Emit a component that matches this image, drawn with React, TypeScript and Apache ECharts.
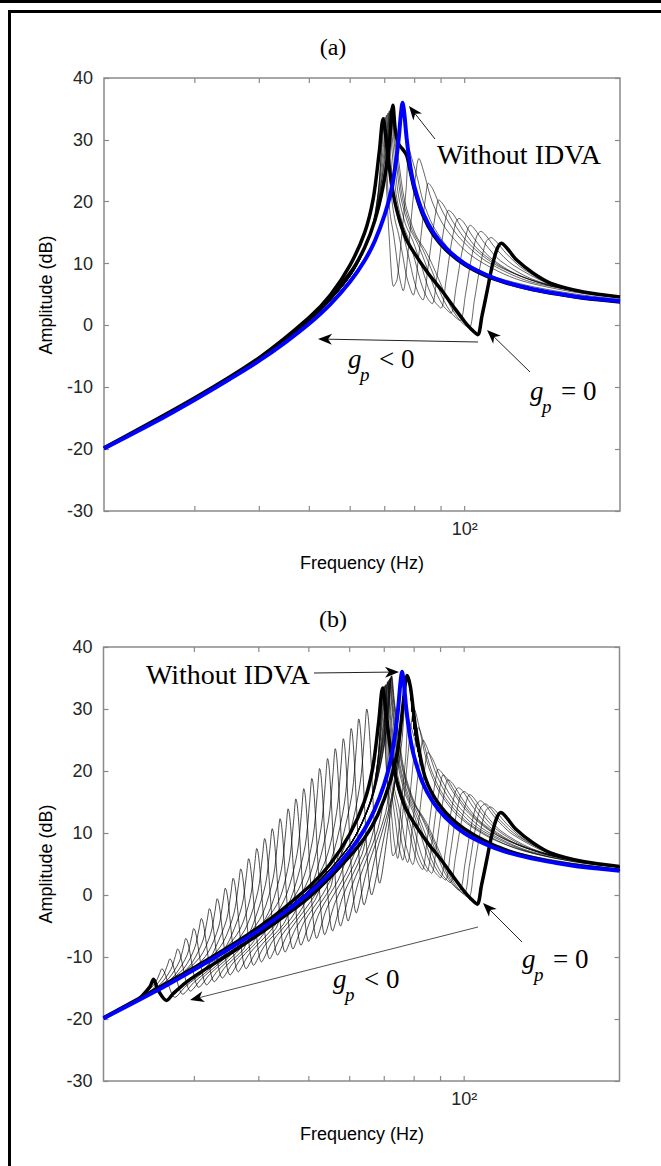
import React, { useEffect, useRef } from "react";
import * as echarts from "echarts";

type Pt = [number, number];

const X_MIN = 20;
const X_MAX = 200;
const Y_MIN = -30;
const Y_MAX = 40;
const Y_STEP = 10;
const X_TICKS = [30, 40, 50, 60, 70, 80, 90, 100];

// "Without IDVA" response (both panels)
const BLUE: Pt[] = [[20,-19.9],[25,-15.7],[30,-12.0],[35,-8.7],[40,-5.7],[45,-2.7],[50,0.3],[55,3.5],[60,7.1],[64,10.5],[67,13.7],[70,17.9],[72,21.7],[73.5,26.1],[74.5,30.2],[75.2,34.0],[75.8,36.0],[76.4,34.2],[77.2,30.2],[78.5,25.6],[80,22.3],[83,18.2],[87,15.0],[92,12.5],[100,10.0],[110,8.2],[120,7.0],[135,5.9],[150,5.2],[170,4.5],[200,3.9]];

// g_p = 0 response (both panels, thick)
const GP0: Pt[] = [[20,-19.8],[30,-11.7],[40,-5.2],[50,1.3],[55,5.0],[60,9.8],[64,15.0],[66.5,20.5],[68.3,28.0],[69.5,33.4],[70.7,29.0],[72,23.4],[74,18.4],[77,14.0],[80,11.6],[85,8.4],[90,5.8],[95,3.1],[100,0.6],[103,-0.6],[106,-1.5],[108,1.5],[110.5,5.5],[113,9.5],[115.5,12.3],[117.8,13.3],[120.5,12.6],[126,10.6],[136,8.4],[147,6.8],[170,5.4],[200,4.6]];

// panel (a): last g_p curve (thick)
const A_LAST: Pt[] = [[20,-19.9],[30,-11.9],[40,-5.5],[50,0.8],[60,8.5],[64,12.6],[67,17.0],[69.5,22.5],[71.3,28.5],[72.6,35.6],[73.4,31.5],[74.5,29.3],[75.8,28.5],[77.2,27.5],[78.5,24.8],[80,21.8],[83,17.8],[87,14.6],[92,12.2],[100,9.8],[110,8.0],[120,6.9],[135,5.8],[150,5.1],[170,4.4],[200,3.8]];

// thin g_p < 0 curves with the antiresonance near / above the resonance (both panels)
const M0: Pt[] = [[20,-19.9],[30,-11.9],[40,-5.6],[50,0.55],[60,7.9],[64,12.3],[66,15.5],[68,21.5],[69,29.0],[69.5,33.5],[70.5,22.9],[71.5,13.5],[72.8,6.3],[74,7.5],[75.5,14.6],[77,22.0],[78,28.5],[79,27.0],[81,23.8],[83,20.2],[87,16.0],[95,11.7],[110,8.4],[130,6.6],[160,5.2],[200,4.2]];
const M1: Pt[] = [[30,-11.8],[40,-5.5],[50,0.7],[60,8.1],[66,15.1],[69,21.2],[71.1,28.0],[72.4,35.4],[73.15,31.7],[74.41,26.9],[76.48,20.2],[80.23,14.8],[84.48,11.7],[88.92,7.6],[93.61,3.3],[97.89,0.8],[102,-0.4],[104.4,4.0],[107.1,9.5],[110,13.5],[112.5,14.2],[115,13.6],[120.5,11.6],[130,9.1],[150,6.4],[170,5.4],[200,4.5]];
const M2: Pt[] = [[30,-11.8],[40,-5.5],[50,0.7],[60,8.1],[66,15.1],[69,21.7],[70.9,28.0],[72.2,35.2],[72.86,31.7],[73.99,27.0],[75.82,20.5],[79.12,15.4],[82.83,12.4],[86.73,8.5],[90.78,4.3],[94.48,1.9],[98,0.8],[100.4,5.1],[102.9,10.6],[105.6,14.5],[107.5,15.2],[109.8,14.6],[115,12.4],[124,9.8],[145,6.8],[170,5.4],[200,4.5]];
const M3: Pt[] = [[30,-11.8],[40,-5.5],[50,0.7],[60,8.0],[66,15.2],[69,22.4],[70.7,28.2],[72.0,35.0],[72.58,31.6],[73.56,27.2],[75.14,20.9],[78.0,16.0],[81.18,13.1],[84.48,9.4],[87.94,5.4],[91.03,3.1],[94,2.0],[96.3,6.3],[98.7,11.7],[101.3,15.5],[102.5,16.2],[104.5,15.6],[109.5,13.2],[117.5,10.4],[135,7.5],[160,5.8],[200,4.5]];
const M4: Pt[] = [[30,-11.8],[40,-5.5],[50,0.7],[60,8.0],[66,15.2],[69,23.3],[70.5,28.5],[71.7,34.8],[72.19,31.5],[73.02,27.2],[74.35,21.2],[76.76,16.4],[79.41,13.6],[82.16,10.0],[85.02,6.1],[87.57,3.8],[90,2.8],[92,7.2],[94,12.7],[96.1,16.6],[97.5,17.3],[99.5,16.7],[104,14.2],[112,11.0],[128,8.0],[155,6.0],[200,4.5]];
const M5: Pt[] = [[30,-11.8],[40,-5.5],[50,0.7],[60,8.0],[66,15.3],[68.5,21.5],[70.2,28.5],[71.4,34.6],[71.81,31.4],[72.5,27.2],[73.63,21.3],[75.63,16.7],[77.83,14.0],[80.11,10.5],[82.45,6.7],[84.54,4.5],[86.5,3.5],[88.4,8.0],[90.4,13.8],[92.2,17.9],[93,18.6],[95,18.0],[99.5,15.3],[107,12.0],[122,8.8],[150,6.2],[200,4.5]];
const M6: Pt[] = [[30,-11.8],[40,-5.5],[50,0.7],[60,8.0],[66,15.3],[68.2,21.3],[69.8,28.2],[71.0,34.3],[71.33,31.2],[71.9,27.1],[72.8,21.4],[74.4,17.0],[76.17,14.3],[77.98,10.9],[79.82,7.2],[81.45,5.1],[83,4.1],[84.8,9.0],[86.7,15.1],[88.4,19.5],[89,20.3],[90.8,19.6],[95,16.7],[102,13.2],[116,9.6],[145,6.5],[200,4.5]];
const M7: Pt[] = [[30,-11.8],[40,-5.5],[50,0.7],[60,8.0],[66,15.4],[68,21.4],[69.4,28.0],[70.6,34.0],[70.85,31.0],[71.96,21.6],[73.16,17.3],[74.48,14.7],[75.82,11.4],[77.18,7.9],[79.5,4.9],[81.2,10.3],[83,17.2],[84.4,22.1],[85,23.0],[86.8,22.0],[90.5,18.5],[97,14.5],[110,10.4],[135,7.0],[200,4.5]];
const M8: Pt[] = [[30,-11.8],[40,-5.5],[50,0.7],[60,8.0],[66,15.4],[68,21.5],[69.0,27.8],[70.1,33.7],[70.27,30.8],[71.01,21.7],[71.82,17.6],[72.69,15.1],[73.59,11.9],[74.48,8.5],[76,5.6],[77.7,12.0],[79.4,20.2],[80.8,25.9],[81.5,27.0],[83.2,25.0],[86.5,20.0],[92,15.6],[103,11.3],[125,7.6],[160,5.5],[200,4.5]];

// extra thin curves of the same kind, panel (b) only
const I1: Pt[] = [[30,-11.8],[40,-5.5],[50,0.7],[60,8.1],[66,15.1],[69,21.5],[71.0,28.0],[72.3,35.3],[73.01,31.7],[74.2,27.0],[76.15,20.3],[79.68,15.1],[83.65,12.0],[87.83,8.1],[92.23,3.8],[96.2,1.3],[100,0.2],[102.3,4.6],[104.8,10.1],[107.5,14.0],[110,14.7],[112.3,14.1],[117.5,12.0],[127,9.5],[148,6.6],[170,5.4],[200,4.5]];
const I2: Pt[] = [[30,-11.8],[40,-5.5],[50,0.7],[60,8.0],[66,15.2],[69,22.8],[70.6,28.3],[71.85,34.9],[72.38,31.6],[73.29,27.2],[74.75,21.1],[77.38,16.2],[80.31,13.3],[83.34,9.7],[86.48,5.7],[89.32,3.5],[92,2.4],[94,6.7],[96.1,12.1],[98.3,16.0],[100,16.7],[102,16.1],[106.8,13.7],[115,10.7],[132,7.7],[160,5.8],[200,4.5]];
const I3: Pt[] = [[30,-11.8],[40,-5.5],[50,0.7],[60,8.0],[66,15.3],[68.4,21.4],[70.0,28.4],[71.2,34.45],[71.57,31.3],[72.2,27.2],[73.21,21.4],[75.0,16.9],[76.98,14.1],[79.01,10.7],[81.1,6.9],[82.96,4.8],[84.7,3.8],[86.6,8.5],[88.5,14.4],[90.3,18.6],[91,19.4],[92.8,18.7],[97.2,15.9],[104.5,12.6],[119,9.1],[148,6.3],[200,4.5]];
const I4: Pt[] = [[30,-11.8],[40,-5.5],[50,0.7],[60,8.0],[66,15.4],[68,21.3],[69.2,27.9],[70.35,33.85],[70.56,30.9],[71.48,21.7],[72.49,17.5],[73.57,14.9],[74.68,11.7],[75.8,8.2],[77.7,5.25],[79.4,11.2],[81.2,18.7],[82.6,23.9],[83.2,25.0],[85,23.5],[88.5,19.3],[94.5,15.0],[106,10.9],[130,7.3],[165,5.3],[200,4.5]];
const I5: Pt[] = [[30,-11.8],[40,-5.5],[50,0.7],[60,8.0],[66,15.5],[68,21.6],[68.8,27.6],[69.8,33.6],[70.15,27.0],[70.5,21.8],[71.12,17.7],[71.79,15.2],[72.47,12.1],[73.15,8.7],[74.3,5.9],[76,13.0],[77.6,21.5],[79,27.8],[80,30.0],[81.6,27.5],[84.5,21.8],[89,17.0],[98,12.5],[115,8.8],[145,6.2],[200,4.5]];

// panel (b): curves with the antiresonance below the resonance.
// common start (just above the blue curve) and common end (shifted resonance)
const B_NEAR_BLUE: Pt[] = [[23,-17.0],[24,-16.2],[25,-15.4],[26.5,-14.2],[28,-13.1],[30,-11.7],[32,-10.4],[34,-9.1],[36,-7.8],[38,-6.6],[40,-5.4],[42.5,-3.9],[45,-2.4],[47.5,-0.9],[50,0.6],[53,2.5],[56,4.5],[59,6.7],[62,9.0],[64,10.8]];
const B_SHIFTED: Pt[] = [[28,-13.9],[30,-12.5],[32,-11.1],[34,-9.9],[36,-8.6],[38,-7.4],[40,-6.2],[42,-5.0],[44,-3.9],[46,-2.7],[48,-1.5],[50,-0.3],[53,1.5],[56,3.4],[59,5.4],[62,7.6],[65,10.1],[68,13.1],[70,15.5],[72,18.6],[74,22.9],[75.5,28.0],[76.5,33.0],[77.5,35.4],[78.5,33.8],[80,27.0],[83,20.4],[87,16.3],[92,13.3],[100,10.6],[110,8.6],[120,7.3],[150,5.3],[200,4.0]];
// local peak / antiresonance section of each of those curves
const B_LOW_PEAKS: Pt[][] = [
  [[24.02,-16.0],[25.18,-14.2],[25.68,-12.7],[25.94,-11.9],[27.5,-16.5],[28.88,-14.7],[31.35,-12.3]],
  [[24.9,-15.2],[26.1,-13.0],[26.62,-11.25],[26.89,-10.3],[28.5,-16.0],[29.93,-14.1],[32.49,-11.6]],
  [[25.77,-14.4],[27.02,-12.0],[27.55,-9.9],[27.83,-8.7],[29.5,-15.5],[30.98,-13.5],[33.63,-10.9]],
  [[26.73,-13.5],[28.03,-10.8],[28.58,-8.4],[28.87,-7.0],[30.6,-14.9],[32.13,-12.8],[34.88,-10.1]],
  [[27.69,-12.6],[29.04,-9.7],[29.61,-6.95],[29.91,-5.4],[31.7,-14.5],[33.29,-12.2],[36.14,-9.4]],
  [[28.65,-11.8],[30.04,-8.55],[30.63,-5.5],[30.94,-3.8],[32.8,-14.0],[34.44,-11.6],[37.39,-8.7]],
  [[29.7,-10.9],[31.15,-7.4],[31.76,-4.1],[32.08,-2.2],[34.0,-13.4],[35.7,-10.9],[38.76,-7.9]],
  [[30.75,-10.05],[32.24,-6.35],[32.88,-2.7],[33.21,-0.6],[35.2,-12.9],[36.96,-10.2],[40.13,-7.1]],
  [[31.88,-9.3],[33.43,-5.15],[34.09,-1.1],[34.43,1.1],[36.5,-12.4],[38.33,-9.5],[41.61,-6.3]],
  [[33.02,-8.35],[34.62,-4.05],[35.31,0.3],[35.66,2.7],[37.8,-11.9],[39.69,-8.9],[43.09,-5.5]],
  [[34.16,-7.55],[35.81,-2.9],[36.52,1.6],[36.89,4.2],[39.1,-11.35],[41.06,-8.15],[44.57,-4.8]],
  [[35.38,-6.6],[37.1,-1.75],[37.83,3.1],[38.21,5.85],[40.5,-10.8],[42.53,-7.45],[46.17,-3.8]],
  [[36.69,-5.7],[38.47,-0.6],[39.23,4.6],[39.62,7.5],[42.0,-10.3],[44.1,-6.75],[47.88,-2.9]],
  [[38.0,-4.8],[39.84,0.6],[40.63,6.1],[41.04,9.1],[43.5,-9.7],[45.68,-6.0],[49.59,-1.9]],
  [[39.31,-3.9],[41.21,1.7],[42.03,7.5],[42.45,10.7],[45.0,-9.2],[47.25,-5.25],[51.3,-0.95]],
  [[40.7,-3.0],[42.68,2.9],[43.52,8.9],[43.96,12.3],[46.6,-8.7],[48.93,-4.4],[53.12,0.05]],
  [[42.19,-2.0],[44.24,4.15],[45.12,10.4],[45.57,13.9],[48.3,-8.1],[50.72,-3.5],[55.06,1.2]],
  [[43.68,-1.0],[45.8,5.4],[46.7,11.8],[47.17,15.5],[50.0,-7.5],[52.5,-2.7],[57.0,2.4]],
  [[45.25,0.05],[47.45,6.65],[48.39,13.3],[48.87,17.15],[51.8,-7.0],[54.39,-1.8],[59.05,3.5]],
  [[46.91,1.15],[49.18,7.9],[50.16,14.8],[50.66,18.8],[53.7,-6.4],[56.39,-0.9],[61.22,5.0]],
  [[48.57,2.25],[50.92,9.2],[51.93,16.35],[52.45,20.4],[55.6,-5.8],[58.38,0.1],[63.38,6.55]],
  [[50.31,3.3],[52.76,10.6],[53.8,17.85],[54.34,22.0],[57.6,-5.0],[60.48,1.3],[65.66,8.35]],
  [[52.06,4.55],[54.59,11.95],[55.67,19.4],[56.23,23.6],[59.6,-4.2],[62.58,2.5],[67.94,10.45]],
  [[53.98,5.8],[56.6,13.3],[57.72,20.9],[58.3,25.2],[61.8,-2.9],[64.89,4.2],[70.45,13.3]],
  [[55.9,7.0],[58.62,14.85],[59.78,22.5],[60.38,26.85],[64.0,-1.6],[67.2,6.05],[72.96,17.2]],
  [[57.82,8.4],[60.63,16.3],[61.83,24.0],[62.45,28.4],[66.2,0.0],[69.51,8.25],[75.47,23.8]],
  [[59.93,9.85],[62.83,17.9],[64.08,25.6],[64.72,30.0],[68.6,1.9],[71.5,11.5],[75,24.5]],
];

// panel (b): last g_p curve (thick)
const B_LAST: Pt[] = [[23.5,-16.7],[24.6,-14.8],[25.0,-13.6],[25.5,-15.3],[26.5,-17.0],[27.3,-15.9],[29,-14.0],[32,-11.6],[36,-8.9],[42,-5.1],[50,-0.4],[58,4.9],[64,9.1],[68,12.9],[72,18.5],[74.5,24.0],[76.2,31.0],[77.5,35.4],[78.7,33.5],[80.5,27.0],[84,19.0],[90,14.3],[100,10.7],[120,7.3],[150,5.3],[200,4.0]];

const A_THIN = [M0, M1, M2, M3, M4, M5, M6, M7, M8];
const B_THIN_HIGH = [M0, M1, I1, M2, I2, M3, M4, M5, I3, M6, M7, I4, M8, I5];

const SANS = "'Liberation Sans', Arial, Helvetica, sans-serif";
const SERIF = "'Liberation Serif', 'Times New Roman', serif";
const AXIS_GREY = "#8a8a8a";
const TEXT_DARK = "#262626";

function lineSeries(data: Pt[], panel: number, color: string, width: number, z: number) {
  return {
    type: "line",
    xAxisIndex: panel,
    yAxisIndex: panel * 2,
    data,
    symbol: "none",
    showSymbol: false,
    smooth: 0.3,
    silent: true,
    z,
    lineStyle: { color, width },
  };
}

function tickSeries(panel: number) {
  return {
    type: "custom",
    xAxisIndex: panel,
    yAxisIndex: panel * 2,
    silent: true,
    z: 10,
    data: X_TICKS.map((v) => [v, Y_MIN]),
    encode: { x: 0, y: 1 },
    renderItem: (_p: any, api: any) => {
      const v = api.value(0);
      const b = api.coord([v, Y_MIN]);
      const t = api.coord([v, Y_MAX]);
      const st = { stroke: AXIS_GREY, lineWidth: 1.2 };
      return {
        type: "group",
        children: [
          { type: "line", shape: { x1: b[0], y1: b[1], x2: b[0], y2: b[1] - 5 }, style: st },
          { type: "line", shape: { x1: t[0], y1: t[1], x2: t[0], y2: t[1] + 5 }, style: st },
        ],
      };
    },
  };
}

function arrow(x1: number, y1: number, x2: number, y2: number, lw = 1, lineColor = "#222") {
  const dx = x2 - x1;
  const dy = y2 - y1;
  const len = Math.sqrt(dx * dx + dy * dy);
  const ux = dx / len;
  const uy = dy / len;
  const L = 14;
  const W = 5.5;
  const N = 10;
  const bx = x2 - ux * L;
  const by = y2 - uy * L;
  const nx = x2 - ux * N;
  const ny = y2 - uy * N;
  return [
    { type: "line", silent: true, z: 20, shape: { x1, y1, x2: nx, y2: ny }, style: { stroke: lineColor, lineWidth: lw } },
    {
      type: "polygon",
      silent: true,
      z: 20,
      shape: { points: [[x2, y2], [bx - uy * W, by + ux * W], [nx, ny], [bx + uy * W, by - ux * W]] },
      style: { fill: "#000" },
    },
  ];
}

function txt(text: string, x: number, y: number, size: number, family: string, align = "left", italic = false, rotation = 0) {
  return {
    type: "text",
    x,
    y,
    rotation,
    silent: true,
    z: 20,
    style: {
      text,
      fontSize: size,
      fontFamily: family,
      fontStyle: italic ? "italic" : "normal",
      fill: "#000",
      align,
      verticalAlign: "middle",
      textAlign: align,
      textVerticalAlign: "middle",
    },
  };
}

function gLabel(x: number, y: number, rest: string) {
  return [
    txt("g", x, y, 27, SERIF, "left", true),
    txt("p", x + 12, y + 15, 19, SERIF, "left", true),
    txt(rest, x + 31, y, 27, SERIF, "left"),
  ];
}

function xAxisCfg(gridIndex: number) {
  return {
    type: "log",
    logBase: 10,
    gridIndex,
    min: X_MIN,
    max: X_MAX,
    axisLine: { show: false },
    axisTick: { show: false },
    splitLine: { show: false },
    axisLabel: {
      formatter: (v: number) => (Math.abs(v - 100) < 0.01 ? "10²" : ""),
      fontFamily: SANS,
      fontSize: 18,
      color: TEXT_DARK,
      margin: 9,
    },
  };
}

function yAxisCfg(gridIndex: number, right: boolean) {
  return {
    type: "value",
    gridIndex,
    position: right ? "right" : "left",
    min: Y_MIN,
    max: Y_MAX,
    interval: Y_STEP,
    axisLine: { show: false },
    axisTick: { show: true, inside: true, length: 5, lineStyle: { color: AXIS_GREY, width: 1.2 } },
    splitLine: { show: false },
    axisLabel: right
      ? { show: false }
      : { show: true, fontFamily: SANS, fontSize: 18, color: TEXT_DARK, margin: 11 },
  };
}

export default function App() {
  const ref = useRef<HTMLDivElement>(null);
  useEffect(() => {
    if (!ref.current) return;
    const chart = echarts.init(ref.current, undefined, { renderer: "svg" });
    const series: any[] = [];
    const THIN = 0.6;
    A_THIN.forEach((d) => series.push(lineSeries(d, 0, "#000", THIN, 2)));
    series.push(lineSeries(A_LAST, 0, "#000", 3.5, 3));
    series.push(lineSeries(GP0, 0, "#000", 3.5, 3));
    series.push(lineSeries(BLUE, 0, "#0000ff", 4, 4));

    B_THIN_HIGH.forEach((d) => series.push(lineSeries(d, 1, "#000", THIN, 2)));
    B_LOW_PEAKS.forEach((u) => {
      const first = u[0][0];
      const last = u[u.length - 1][0];
      const data: Pt[] = [
        ...B_NEAR_BLUE.filter((p) => p[0] < first * 0.97),
        ...u,
        ...B_SHIFTED.filter((p) => p[0] > last * 1.015),
      ];
      series.push(lineSeries(data, 1, "#000", 0.7, 2));
    });
    series.push(lineSeries(B_LAST, 1, "#000", 3.5, 3));
    series.push(lineSeries(GP0, 1, "#000", 3.5, 3));
    series.push(lineSeries(BLUE, 1, "#0000ff", 4, 4));
    series.push(tickSeries(0));
    series.push(tickSeries(1));

    const graphic: any[] = [
      { type: "rect", silent: true, shape: { x: 0, y: 0, width: 661, height: 3 }, style: { fill: "#000" } },
      { type: "rect", silent: true, shape: { x: 8, y: 10, width: 653, height: 3 }, style: { fill: "#000" } },
      { type: "rect", silent: true, shape: { x: 8, y: 10, width: 3, height: 1156 }, style: { fill: "#000" } },
      txt("(a)", 333, 47, 24, SERIF, "center"),
      txt("(b)", 333, 619, 24, SERIF, "center"),
      txt("Frequency (Hz)", 362, 563, 18, SANS, "center"),
      txt("Frequency (Hz)", 362, 1134, 18, SANS, "center"),
      txt("Amplitude (dB)", 46, 295, 18, SANS, "center", false, Math.PI / 2),
      txt("Amplitude (dB)", 46, 864, 18, SANS, "center", false, Math.PI / 2),
      txt("Without IDVA", 437, 154, 28, SERIF, "left"),
      txt("Without IDVA", 146, 674, 28, SERIF, "left"),
      ...gLabel(348, 359, "< 0"),
      ...gLabel(530, 391, "= 0"),
      ...gLabel(522, 959, "= 0"),
      ...gLabel(333, 979, "< 0"),
      ...arrow(435, 139, 409, 106),
      ...arrow(478, 342, 318, 339),
      ...arrow(530, 372, 487, 330),
      ...arrow(314, 673, 399, 672),
      ...arrow(522, 942, 483, 903),
      ...arrow(478, 927, 190, 1000, 0.8),
    ];

    chart.setOption({
      animation: false,
      backgroundColor: "#fff",
      grid: [
        { left: 104, top: 78, width: 516, height: 433, show: true, borderColor: AXIS_GREY, borderWidth: 1.5, backgroundColor: "transparent" },
        { left: 103.5, top: 647, width: 516, height: 434, show: true, borderColor: AXIS_GREY, borderWidth: 1.5, backgroundColor: "transparent" },
      ],
      xAxis: [xAxisCfg(0), xAxisCfg(1)],
      yAxis: [yAxisCfg(0, false), yAxisCfg(0, true), yAxisCfg(1, false), yAxisCfg(1, true)],
      series,
      graphic,
    });
    return () => chart.dispose();
  }, []);
  return (
    <div
      ref={ref}
      style={{ position: "absolute", left: 0, top: 0, width: 661, height: 1166, background: "#fff" }}
    />
  );
}
